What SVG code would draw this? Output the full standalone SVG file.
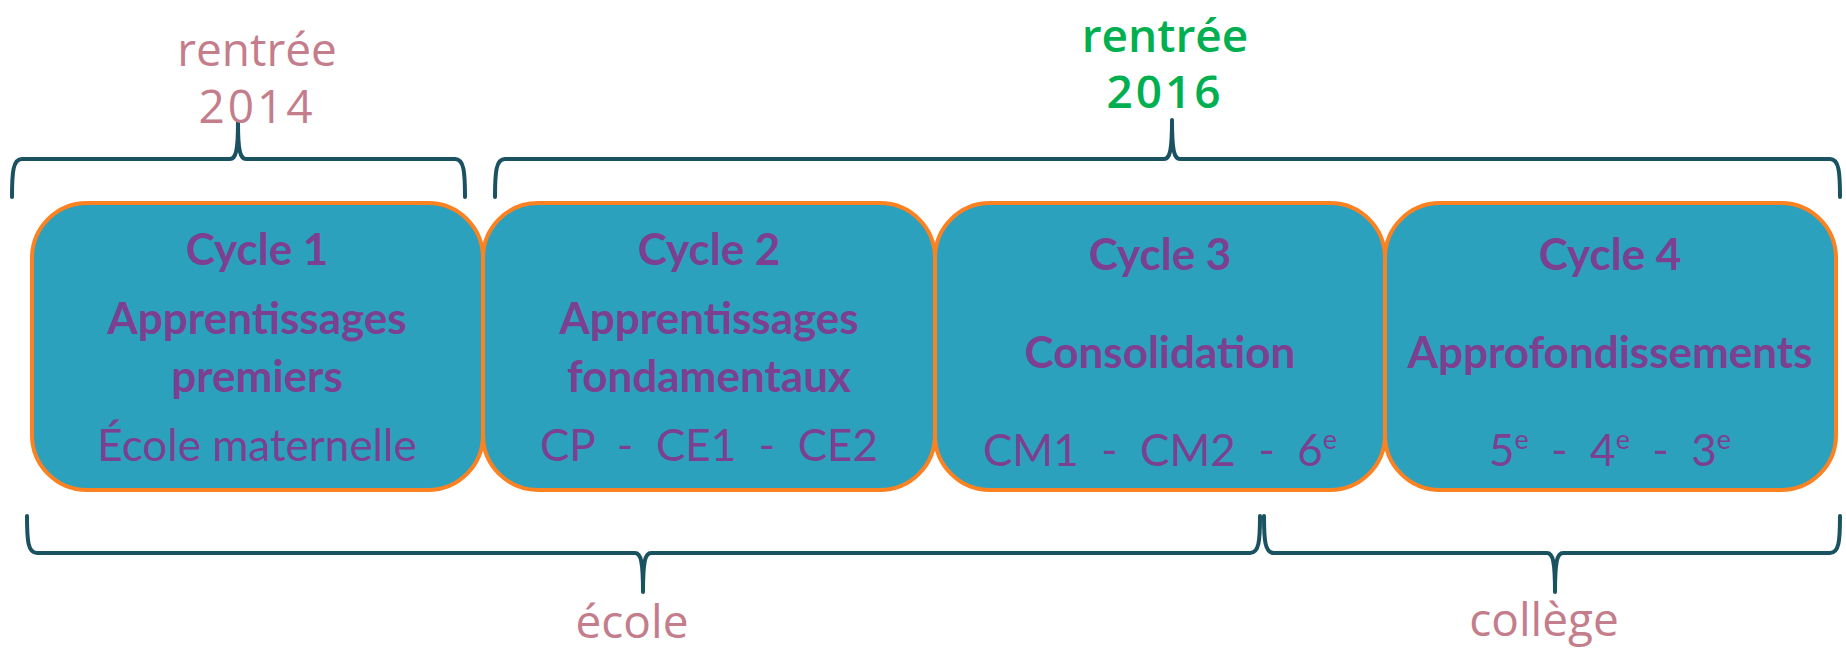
<svg xmlns="http://www.w3.org/2000/svg" width="1846" height="650" viewBox="0 0 1846 650">
<style>
.box{fill:#2ca1be;stroke:#fb8121;stroke-width:4}
.t{font-family:Lato,"Open Sans",sans-serif;fill:#7d3f8f;text-anchor:middle;white-space:pre}
.b{font-weight:bold;font-size:44px}
.r{font-size:44px}
.br{fill:none;stroke:#1a5262;stroke-width:4;stroke-linecap:round;stroke-linejoin:round}
.lab{font-family:"Open Sans",sans-serif;text-anchor:middle;font-size:46px}
.pink{fill:#c47d8b}
.green{fill:#00b050;font-weight:600}
</style>
<rect width="1846" height="650" fill="#ffffff"/>
<g id="connectors">
<path class="br" d="M12,197 C12,172 13,159 22,159 L230,159 C236,159 238,150 238,122 C238,150 240,159 246,159 L455,159 C464,159 465,172 465,197"/>
<path class="br" d="M495,197 C495,172 496,159 505,159 L1164,159 C1170,159 1172,150 1172,120 C1172,150 1174,159 1180,159 L1830,159 C1839,159 1840,172 1840,197"/>
<path class="br" d="M27,516 C27,541 28,553 37,553 L635,553 C641,553 643,562 643,592 C643,562 645,553 651,553 L1250,553 C1259,553 1260,541 1260,516"/>
<path class="br" d="M1264,516 C1264,541 1265,553 1274,553 L1547,553 C1553,553 1555,562 1555,592 C1555,562 1557,553 1563,553 L1830,553 C1839,553 1840,541 1840,516"/>
</g>
<g id="label-2014">
<text class="lab pink" x="257" y="66">rentrée</text>
<text class="lab pink" x="257" y="123" letter-spacing="3">2014</text>
</g>
<g id="label-2016">
<text class="lab green" x="1165" y="52">rentrée</text>
<text class="lab green" x="1165" y="108" letter-spacing="3">2016</text>
</g>
<g id="label-ecole"><text class="lab pink" x="632" y="638">école</text></g>
<g id="label-college"><text class="lab pink" x="1544" y="636">collège</text></g>
<g id="cycle1">
<rect class="box" x="32" y="203" width="451" height="287" rx="55"/>
<text class="t b" x="257" y="265">Cycle 1</text>
<text class="t b" x="257" y="334">Apprentissages</text>
<text class="t b" x="257" y="392">premiers</text>
<text class="t r" x="257" y="461">École maternelle</text>
</g>
<g id="cycle2">
<rect class="box" x="483" y="203" width="452" height="287" rx="55"/>
<text class="t b" x="709" y="265">Cycle 2</text>
<text class="t b" x="709" y="334">Apprentissages</text>
<text class="t b" x="709" y="392">fondamentaux</text>
<text class="t r" x="709" y="461">CP  -  CE1  -  CE2</text>
</g>
<g id="cycle3">
<rect class="box" x="935" y="203" width="450" height="287" rx="55"/>
<text class="t b" x="1160" y="270">Cycle 3</text>
<text class="t b" x="1160" y="368">Consolidation</text>
<text class="t r" x="1160" y="466">CM1  -  CM2  -  6<tspan font-size="27" dy="-17">e</tspan></text>
</g>
<g id="cycle4">
<rect class="box" x="1385" y="203" width="451" height="287" rx="55"/>
<text class="t b" x="1610" y="270">Cycle 4</text>
<text class="t b" x="1610" y="368">Approfondissements</text>
<text class="t r" x="1610" y="466">5<tspan font-size="27" dy="-17">e</tspan><tspan dy="17">  -  4</tspan><tspan font-size="27" dy="-17">e</tspan><tspan dy="17">  -  3</tspan><tspan font-size="27" dy="-17">e</tspan></text>
</g>
</svg>
